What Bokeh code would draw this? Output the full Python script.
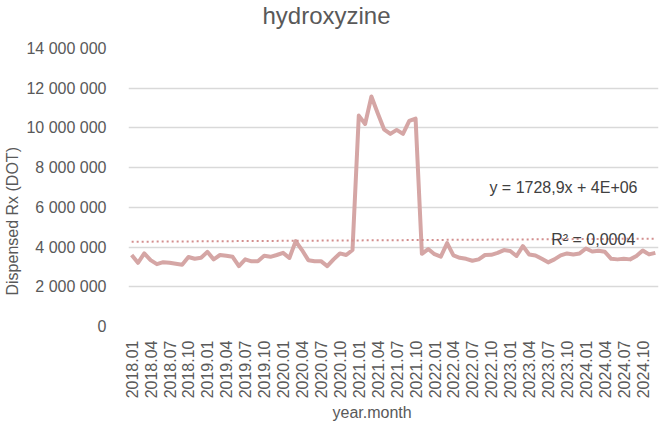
import math
import numpy as np
from bokeh.plotting import figure
from bokeh.models import Range1d, FixedTicker, Label, Title, ColumnDataSource
from bokeh.embed import file_html
from bokeh.resources import INLINE

title_text = "hydroxyzine"
x_title = "year.month"
y_title = "Dispensed Rx (DOT)"

month_index = list(range(1, 85))
dispensed = [
    3600000, 3210000, 3680000, 3340000, 3140000, 3240000, 3210000, 3160000, 3110000, 3500000, 3410000, 3460000,
    3760000, 3380000, 3600000, 3560000, 3510000, 3040000, 3380000, 3280000, 3290000, 3560000, 3510000, 3600000,
    3710000, 3450000, 4300000, 3850000, 3340000, 3290000, 3290000, 3040000, 3380000, 3680000, 3600000, 3850000,
    10620000, 10200000, 11580000, 10740000, 9930000, 9700000, 9900000, 9700000, 10350000, 10470000, 3660000, 3900000,
    3640000, 3520000, 4200000, 3580000, 3460000, 3410000, 3310000, 3380000, 3600000, 3610000, 3710000, 3850000,
    3800000, 3550000, 4050000, 3630000, 3580000, 3410000, 3230000, 3380000, 3580000, 3680000, 3630000, 3680000,
    3930000, 3780000, 3810000, 3760000, 3410000, 3380000, 3410000, 3380000, 3550000, 3830000, 3630000, 3710000,
]

x_tick_positions = [1, 4, 7, 10, 13, 16, 19, 22, 25, 28, 31, 34, 37, 40, 43, 46, 49, 52, 55, 58, 61, 64, 67, 70, 73, 76, 79, 82]
x_tick_labels = [
    "2018.01", "2018.04", "2018.07", "2018.10", "2019.01", "2019.04", "2019.07", "2019.10",
    "2020.01", "2020.04", "2020.07", "2020.10", "2021.01", "2021.04", "2021.07", "2021.10",
    "2022.01", "2022.04", "2022.07", "2022.10", "2023.01", "2023.04", "2023.07", "2023.10",
    "2024.01", "2024.04", "2024.07", "2024.10",
]
y_tick_positions = [0, 2000000, 4000000, 6000000, 8000000, 10000000, 12000000, 14000000]
y_tick_labels = ["0", "2 000 000", "4 000 000", "6 000 000", "8 000 000", "10 000 000", "12 000 000", "14 000 000"]

equation_text = "y = 1728,9x + 4E+06"
r2_text = "R² = 0,0004"

FONT = "Liberation Sans"
TXT = "#595959"
LINE = "#D5A6A5"
TREND = "#D38E8E"

p = figure(width=659, height=425, output_backend="svg", toolbar_location=None,
           x_range=Range1d(0.5, 84.5), y_range=Range1d(0, 14000000),
           min_border_left=125, min_border_right=1, min_border_top=48, min_border_bottom=99,
           background_fill_color="white", border_fill_color="white", outline_line_color=None)
p.title = None
# spacer panel between the frame and the title
p.add_layout(Title(text=" ", standoff=0, text_font=FONT, text_font_size="13px"), "above")
p.add_layout(Title(text=title_text, align="left", offset=134, vertical_align="top", standoff=2,
                   text_font=FONT, text_font_size="24px",
                   text_font_style="normal", text_color=TXT), "above")

src = ColumnDataSource(dict(x=month_index, y=dispensed))
p.line("x", "y", source=src, line_color=LINE, line_width=4, line_join="round")

coef = np.polyfit(np.array(month_index, dtype=float), np.array(dispensed, dtype=float), 1)
tx = [month_index[0], month_index[-1]]
ty = [coef[0] * tx[0] + coef[1], coef[0] * tx[1] + coef[1]]
p.line(tx, ty, line_color=TREND, line_width=2, line_dash="2 3")

p.add_layout(Label(x=57.7, y=7000000, text=equation_text, text_font=FONT, text_font_size="16px",
                   text_color="#404040", text_baseline="middle", text_align="left"))
p.add_layout(Label(x=67.5, y=4380000, text=r2_text, text_font=FONT, text_font_size="16px",
                   text_color="#404040", text_baseline="middle", text_align="left"))

p.xgrid.grid_line_color = None
p.ygrid.grid_line_color = "#D9D9D9"
p.ygrid.grid_line_width = 1.3
p.ygrid.ticker = FixedTicker(ticks=y_tick_positions)

p.xaxis.ticker = FixedTicker(ticks=x_tick_positions)
p.xaxis.major_label_overrides = {k: v for k, v in zip(x_tick_positions, x_tick_labels)}
p.xaxis.major_label_orientation = math.pi / 2
p.yaxis.ticker = FixedTicker(ticks=y_tick_positions)
p.yaxis.major_label_overrides = {k: v for k, v in zip(y_tick_positions, y_tick_labels)}

for ax in (p.xaxis[0], p.yaxis[0]):
    ax.axis_line_color = None
    ax.major_tick_line_color = None
    ax.minor_tick_line_color = None
    ax.major_label_text_font = FONT
    ax.major_label_text_font_size = "16px"
    ax.major_label_text_color = TXT

p.xaxis.major_label_standoff = 8
p.yaxis.major_label_standoff = 16

# axis titles as side titles, offset to match the reference (not frame-centred)
p.add_layout(Title(text=y_title, align="left", offset=31, vertical_align="middle", standoff=4,
                   text_font=FONT, text_font_size="16px", text_font_style="normal",
                   text_color=TXT), "left")
p.add_layout(Title(text=x_title, align="left", offset=204, vertical_align="top", standoff=4,
                   text_font=FONT, text_font_size="16px", text_font_style="normal",
                   text_color=TXT), "below")

open("out.html", "w").write(file_html(p, INLINE))
